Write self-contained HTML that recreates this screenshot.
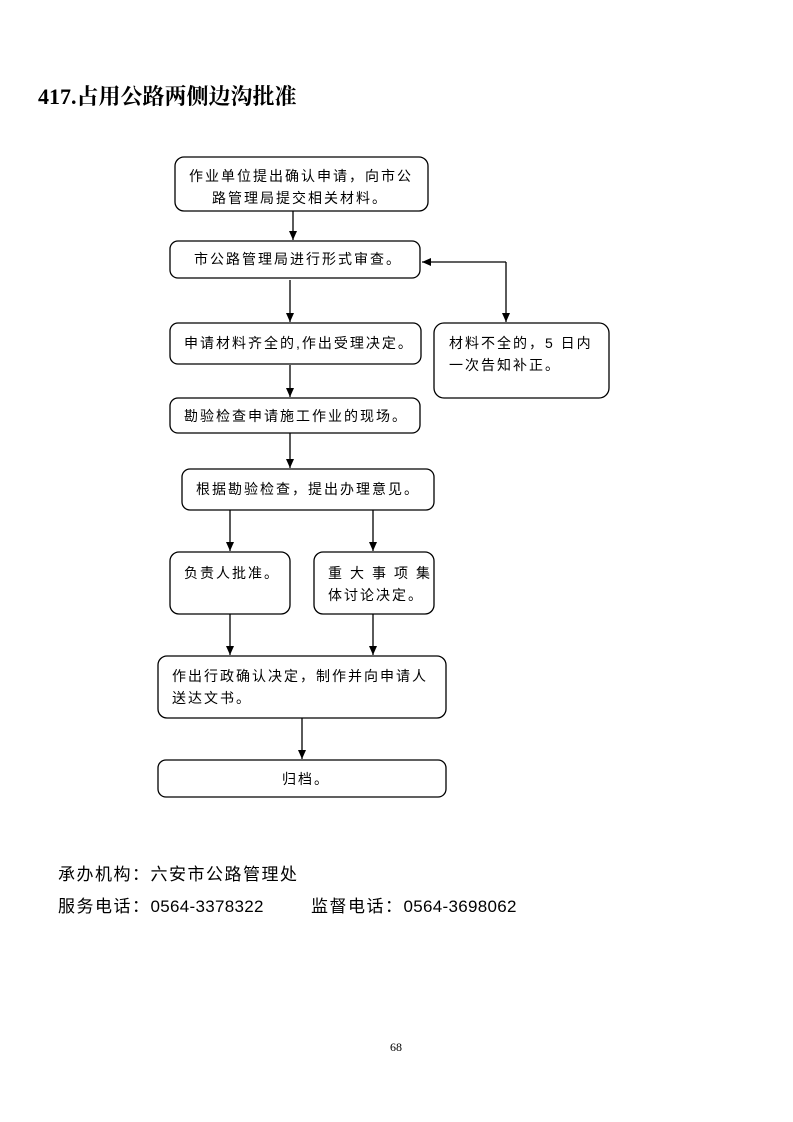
<!DOCTYPE html>
<html><head><meta charset="utf-8"><style>
body{margin:0;background:#fff;}
.p{position:relative;width:793px;height:1122px;overflow:hidden;font-family:"Liberation Serif","Noto Serif CJK SC","Noto Sans CJK SC",serif;}
.t{position:absolute;white-space:nowrap;color:#000;}
.d{letter-spacing:0.3px;}
</style></head><body><div class="p">
<div class="t" style="left:38px;top:80px;font-size:22px;font-weight:bold;">417.占用公路两侧边沟批准</div>
<svg width="793" height="1122" style="position:absolute;left:0;top:0" font-family="Liberation Sans, Noto Sans CJK SC, sans-serif" font-size="14">
<defs><marker id="a" markerWidth="10" markerHeight="10" refX="9" refY="5" orient="auto" markerUnits="userSpaceOnUse"><path d="M0,1 L9,5 L0,9 z" fill="#000"/></marker></defs>
<g fill="none" stroke="#000" stroke-width="1.3">
<rect x="175" y="157" width="253" height="54" rx="9"/>
<rect x="170" y="241" width="250" height="37" rx="8"/>
<rect x="170" y="323" width="251" height="41" rx="8"/>
<rect x="434" y="323" width="175" height="75" rx="10"/>
<rect x="170" y="398" width="250" height="35" rx="8"/>
<rect x="182" y="469" width="252" height="41" rx="8"/>
<rect x="170" y="552" width="120" height="62" rx="9"/>
<rect x="314" y="552" width="120" height="62" rx="9"/>
<rect x="158" y="656" width="288" height="62" rx="9"/>
<rect x="158" y="760" width="288" height="37" rx="8"/>
<g marker-end="url(#a)">
<line x1="293" y1="211" x2="293" y2="240"/>
<line x1="290" y1="280" x2="290" y2="322"/>
<line x1="290" y1="365" x2="290" y2="397"/>
<line x1="290" y1="433" x2="290" y2="468"/>
<line x1="230" y1="510" x2="230" y2="551"/>
<line x1="373" y1="510" x2="373" y2="551"/>
<line x1="230" y1="614" x2="230" y2="655"/>
<line x1="373" y1="614" x2="373" y2="655"/>
<line x1="302" y1="718" x2="302" y2="759"/>
<path d="M506,262 L506,322"/>
<path d="M506,262 L422,262"/>
</g>
</g>
<g fill="#000" letter-spacing="2">
<text x="189" y="181">作业单位提出确认申请，向市公</text>
<text x="212" y="203">路管理局提交相关材料。</text>
<text x="194" y="264">市公路管理局进行形式审查。</text>
<text x="184" y="348">申请材料齐全的,作出受理决定。</text>
<text x="449" y="348">材料不全的，5 日内</text>
<text x="449" y="370">一次告知补正。</text>
<text x="184" y="421">勘验检查申请施工作业的现场。</text>
<text x="196" y="494">根据勘验检查，提出办理意见。</text>
<text x="184" y="578">负责人批准。</text>
<text x="328" y="578" letter-spacing="8">重大事项集</text>
<text x="328" y="600">体讨论决定。</text>
<text x="172" y="681">作出行政确认决定，制作并向申请人</text>
<text x="172" y="703">送达文书。</text>
<text x="282" y="784">归档。</text>
</g>
</svg>
<div class="t" style="left:58px;top:860px;font-size:17px;letter-spacing:1.5px;font-family:'Liberation Sans','Noto Sans CJK SC',sans-serif;">承办机构：六安市公路管理处</div>
<div class="t" style="left:58px;top:892px;font-size:17px;letter-spacing:1.5px;font-family:'Liberation Sans','Noto Sans CJK SC',sans-serif;">服务电话：<span class="d">0564-3378322</span></div>
<div class="t" style="left:311px;top:892px;font-size:17px;letter-spacing:1.5px;font-family:'Liberation Sans','Noto Sans CJK SC',sans-serif;">监督电话：<span class="d">0564-3698062</span></div>
<div class="t" style="left:390px;top:1040px;font-size:12px;">68</div>
</div></body></html>
